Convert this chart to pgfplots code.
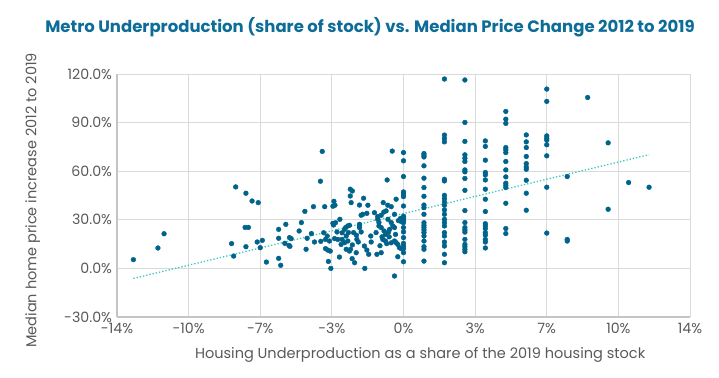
\documentclass[border=0pt]{standalone}
\usepackage{pgfplots}
\pgfplotsset{compat=1.18}
\usepackage{fontspec}
\setmainfont{Poppins}
\definecolor{dotc}{HTML}{00638C}
\definecolor{titc}{HTML}{0E6C98}
\definecolor{trendc}{HTML}{35C9BC}
\definecolor{gridc}{HTML}{DADADA}
\definecolor{txtc}{HTML}{595959}
\begin{document}
\begin{tikzpicture}
\path[use as bounding box] (-117bp,-61bp) rectangle (602bp,317bp);
\begin{axis}[
  at={(0,0)}, anchor=south west,
  scale only axis, width=573bp, height=243bp,
  xmin=-14, xmax=14, ymin=-30, ymax=120,
  xtick={-14,-10.5,-7,-3.5,0,3.5,7,10.5,14},
  xticklabels={-14\%,-10\%,-7\%,-3\%,0\%,3\%,7\%,10\%,14\%},
  ytick={-30,0,30,60,90,120},
  yticklabels={-30.0\%,0.0\%,30.0\%,60.0\%,90.0\%,120.0\%},
  grid=major,
  major grid style={gridc, line width=1pt},
  axis line style={gridc!90!black, line width=1.2pt},
  axis x line*=bottom, axis y line*=left,
  tick style={draw=none},
  ticklabel style={font=\fontsize{14.2bp}{16bp}\selectfont, text=txtc},
  xticklabel style={yshift=-2.5bp},
  yticklabel style={xshift=-1.5bp},
  xlabel={Housing Underproduction as a share of the 2019 housing stock},
  ylabel={Median home price increase 2012 to 2019},
  label style={font=\fontsize{14.5bp}{16bp}\selectfont, text=txtc},
  xlabel style={at={(axis description cs:0.529,-0.156)}, anchor=center},
  ylabel style={at={(axis description cs:-0.147,0.48)}, anchor=center, rotate=0},
  clip=false,
]
\addplot[only marks, mark=*, mark size=2.4bp, mark options={draw=dotc, fill=dotc}] table {
x y
-13.2 5.4
-12.0 12.6
-11.7 21.4
-8.2 50.3
-7.7 46.4
-7.4 41.6
-7.1 40.6
-8.4 15.3
-8.3 7.6
-7.74 25.3
-7.58 25.3
-7.7 13.4
-7.15 16.3
-6.9 17.3
-7.0 12.8
-6.7 3.9
-6.1 6.2
-6.0 1.9
-6.1 24.1
-6.1 18.6
-5.75 27.2
-5.8 15.5
-5.57 19.0
-5.49 18.4
-5.6 14.2
-5.55 13.6
-5.1 23.1
-4.99 28.3
-4.82 35.2
-4.40 38.1
-3.85 38.1
-3.97 72.2
-4.06 53.8
-4.71 18.6
-4.76 11.8
-4.35 16.3
-4.04 16.7
-3.81 17.9
-3.73 20.0
-3.81 12.2
-3.70 11.3
-3.58 10.7
-3.67 4.3
-3.55 0.0
-3.13 7.0
-3.4 41.4
-3.35 39.0
-3.45 38.4
-3.45 27.8
-3.32 28.2
-3.42 26.8
-3.11 30.3
-3.37 18.4
-3.21 17.9
-3.62 16.9
-3.0 17.9
-2.88 15.9
-3.05 14.8
-2.72 16.9
-2.8 11.8
-2.8 20.0
-2.88 24.1
-2.72 26.2
-2.64 26.6
-2.69 22.1
-2.83 25.2
-2.6 48.9
-2.5 47.8
-2.6 44.7
-2.56 40.6
-2.64 10.7
-2.51 6.0
-2.39 3.5
-2.31 9.7
-2.44 22.1
-2.28 17.9
-2.21 16.3
-2.15 26.6
-2.15 25.2
-2.07 22.5
-2.15 27.2
-2.15 39.1
-1.95 43.3
-1.74 39.0
-2.07 32.8
-1.99 33.4
-1.79 34.0
-1.42 34.4
-1.26 32.0
-1.09 32.8
-0.85 35.5
-0.44 33.4
-0.96 34.8
-1.26 30.3
-1.2 28.3
-1.2 26.2
-1.91 13.8
-1.79 11.3
-1.7 8.7
-1.89 0.0
-1.58 16.3
-1.34 22.1
-1.3 8.7
-1.09 9.7
-1.01 17.9
-0.88 16.9
-0.82 15.3
-1.09 25.2
-0.95 23.1
-0.88 21.0
-0.73 22.5
-0.68 24.1
-0.6 28.3
-0.52 26.2
-0.44 25.2
-0.39 21.0
-0.44 16.9
-0.28 14.8
-0.2 12.8
-0.28 7.2
-0.44 -4.7
-0.25 29.5
-0.15 30.8
-0.1 28.8
-0.05 30.0
-0.55 72.4
-0.8 54.6
-0.99 40.6
-0.77 39.0
-0.6 38.1
-0.36 42.7
-0.76 30.3
-0.36 15.9
-0.11 12.2
-0.6 15.8
-0.7 19.5
-1.15 14.0
-2.59 11.8
-2.5 14.5
-2.3 20.5
-3.25 22.5
-3.0 22.0
-3.9 22.0
-4.5 21.5
-1.6 20.0
-1.05 19.5
0 71.5
0 66.4
0 56.7
0 47.2
0 45.8
0 44.3
0 38.5
0 32.2
0 31.5
0 30.7
0 29.7
0 28.2
0 25.2
0 22.5
0 19.0
0 15.5
0 13.8
0 12.2
0 9.7
0 4.1
1 70.9
1 69.9
1 68.8
1 63.3
1 55.7
1 49.9
1 44.5
1 39.1
1 37.5
1 33.4
1 28.2
1 26.6
1 25.2
1 23.7
1 22.1
1 20.0
1 16.9
1 13.4
1 11.8
1 4.5
2 116.9
2 82.3
2 80.2
2 78.1
2 55.0
2 54.0
2 45.1
2 43.1
2 41.0
2 39.0
2 36.1
2 33.4
2 30.3
2 28.3
2 26.2
2 22.1
2 20.0
2 16.3
2 13.8
2 8.7
2 3.5
3 116.3
3 90.1
3 78.4
3 70.1
3 68.0
3 66.0
3 60.8
3 59.6
3 55.5
3 48.2
3 35.7
3 28.3
3 25.2
3 23.7
3 22.4
3 17.9
3 14.8
3 13.4
3 11.8
3 10.3
4 78.7
4 75.3
4 66.8
4 59.2
4 57.7
4 54.6
4 48.9
4 42.7
4 35.1
4 27.6
4 26.2
4 24.6
4 22.1
4 20.6
4 17.9
4 16.3
4 12.6
5 96.9
5 92.1
5 89.5
5 74.6
5 73.2
5 71.5
5 66.0
5 60.8
5 56.5
5 52.6
5 51.3
5 49.9
5 40.2
5 24.6
5 21.5
6 82.4
6 78.1
6 74.6
6 69.1
6 64.7
6 62.6
6 61.2
6 54.4
6 46.4
6 35.9
7 110.7
7 103.1
7 81.8
7 80.4
7 79.2
7 76.3
7 69.5
7 50.1
7 21.8
8 56.7
8 17.9
8 16.9
9 105.5
10 77.5
10 36.5
11 53.0
12 50.1
};
\addplot[trendc, line width=1.3bp, dotted, no marks] coordinates {(-13.2,-6.2) (12,70.2)};
\end{axis}
\node[font=\fontsize{16.5bp}{18bp}\selectfont\bfseries, text=titc] at (253bp,290bp) {Metro Underproduction (share of stock) vs. Median Price Change 2012 to 2019};
\end{tikzpicture}
\end{document}
